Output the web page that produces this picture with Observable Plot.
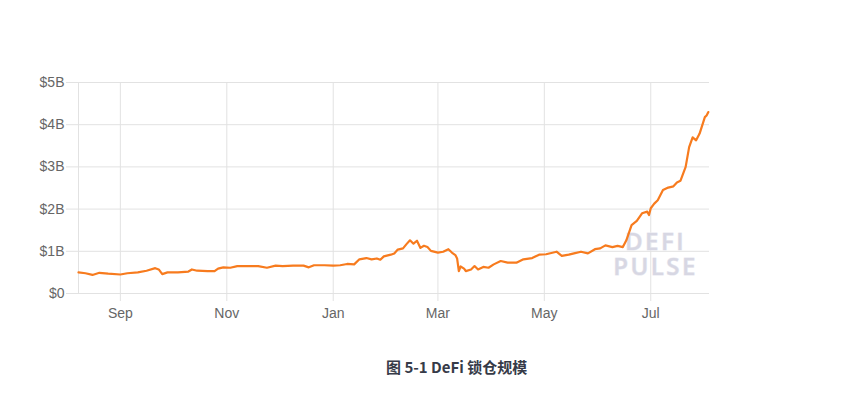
<!DOCTYPE html>
<html>
<head>
<meta charset="utf-8">
<script src="https://cdn.jsdelivr.net/npm/d3@7"></script>
<script src="https://cdn.jsdelivr.net/npm/@observablehq/plot@0.6"></script>
<style>
  body { margin: 0; background: #fff; font-family: "Liberation Sans", Arial, sans-serif; }
  #chart svg { display: block; }
  #chart g[aria-label="text"] text { letter-spacing: 2.5px; }
  #caption {
    margin-top: 27px; height: 20px; line-height: 20px;
    padding-left: 386px;
    font-family: "Noto Sans CJK SC", "Noto Sans", sans-serif;
    font-weight: bold; font-size: 15px; color: #363b48;
  }
</style>
</head>
<body>
<div id="chart"></div>
<div id="caption">图 5-1 DeFi 锁仓规模</div>
<script>
const dates = [
  "2019-08-08","2019-08-12","2019-08-16","2019-08-20","2019-08-25","2019-09-01","2019-09-05","2019-09-11",
  "2019-09-16","2019-09-21","2019-09-23","2019-09-25","2019-09-28","2019-10-04","2019-10-10","2019-10-12",
  "2019-10-15","2019-10-21","2019-10-25","2019-10-27","2019-10-30","2019-11-03","2019-11-07","2019-11-13",
  "2019-11-19","2019-11-24","2019-11-29","2019-12-03","2019-12-09","2019-12-15","2019-12-18","2019-12-21",
  "2019-12-27","2020-01-01","2020-01-05","2020-01-09","2020-01-13","2020-01-16","2020-01-20","2020-01-23",
  "2020-01-26","2020-01-28","2020-01-30","2020-02-03","2020-02-05","2020-02-07","2020-02-10","2020-02-12",
  "2020-02-14","2020-02-16","2020-02-18","2020-02-20","2020-02-22","2020-02-24","2020-02-26","2020-03-01",
  "2020-03-04","2020-03-07","2020-03-09","2020-03-11","2020-03-12","2020-03-13","2020-03-14","2020-03-16",
  "2020-03-17","2020-03-20","2020-03-22","2020-03-24","2020-03-27","2020-03-30","2020-04-02","2020-04-06",
  "2020-04-10","2020-04-15","2020-04-19","2020-04-24","2020-04-28","2020-05-02","2020-05-08","2020-05-11",
  "2020-05-15","2020-05-18","2020-05-22","2020-05-26","2020-05-30","2020-06-02","2020-06-05","2020-06-09",
  "2020-06-12","2020-06-15","2020-06-17","2020-06-20","2020-06-23","2020-06-26","2020-06-29","2020-06-30",
  "2020-07-01","2020-07-03","2020-07-05","2020-07-08","2020-07-11","2020-07-14","2020-07-16","2020-07-18",
  "2020-07-21","2020-07-23","2020-07-25","2020-07-27","2020-07-29","2020-08-01","2020-08-02","2020-08-03"
];
const tvlBillions = [
  0.50,0.48,0.44,0.49,0.47,0.45,0.48,0.50,
  0.54,0.60,0.57,0.46,0.50,0.50,0.52,0.57,
  0.54,0.53,0.53,0.59,0.62,0.61,0.65,0.65,
  0.65,0.61,0.66,0.65,0.66,0.66,0.62,0.67,
  0.67,0.66,0.67,0.70,0.69,0.81,0.84,0.81,
  0.83,0.80,0.88,0.92,0.95,1.04,1.07,1.17,
  1.26,1.18,1.25,1.08,1.13,1.10,1.01,0.97,
  0.99,1.05,0.97,0.91,0.83,0.53,0.64,0.59,
  0.53,0.57,0.65,0.57,0.63,0.61,0.69,0.77,
  0.73,0.73,0.81,0.84,0.92,0.93,0.99,0.89,
  0.92,0.95,0.99,0.95,1.05,1.07,1.14,1.10,
  1.13,1.10,1.26,1.62,1.72,1.90,1.94,1.86,
  2.02,2.13,2.21,2.45,2.51,2.54,2.63,2.67,
  3.00,3.47,3.70,3.63,3.79,4.18,4.22,4.30
];
const xDomain = ["2019-08-08T00:00Z", "2020-08-03T16:00Z"];
const xTickDates = ["2019-09-01","2019-11-01","2020-01-01","2020-03-01","2020-05-01","2020-07-01"];
const xTickLabels = ["Sep","Nov","Jan","Mar","May","Jul"];
const yTicks = [0,1,2,3,4,5];
const yTickLabels = ["$0","$1B","$2B","$3B","$4B","$5B"];
const watermarkText = "DEFI\nPULSE";

const data = dates.map((d, i) => ({date: new Date(d + "T00:00Z"), value: tvlBillions[i]}));
const xTicks = xTickDates.map(d => new Date(d + "T00:00Z"));
const gridColor = "#e2e2e2";
const labelColor = "#666";

const chart = Plot.plot({
  width: 850,
  height: 330,
  marginLeft: 78,
  marginRight: 141,
  marginTop: 82,
  marginBottom: 37,
  style: {fontFamily: "'Liberation Sans', Arial, sans-serif", fontSize: "14px", background: "#fff"},
  x: {type: "utc", domain: xDomain.map(d => new Date(d))},
  y: {domain: [0, 5]},
  marks: [
    Plot.gridY(yTicks, {stroke: gridColor, strokeOpacity: 1}),
    Plot.gridX(xTicks, {stroke: gridColor, strokeOpacity: 1}),
    Plot.frame({anchor: "left", stroke: gridColor}),
    Plot.axisY(yTicks, {
      tickSize: 12, tickPadding: 2, stroke: gridColor, fill: labelColor, fontSize: 14,
      tickFormat: d => yTickLabels[yTicks.indexOf(d)], label: null
    }),
    Plot.axisX(xTicks, {
      tickSize: 8, tickPadding: 7, stroke: gridColor, fill: labelColor, fontSize: 14,
      tickFormat: d => xTickLabels[xTicks.findIndex(t => +t === +d)], label: null
    }),
    Plot.text([watermarkText], {
      text: d => d, frameAnchor: "bottom-right", textAnchor: "middle", lineHeight: 1.04,
      dx: -54, dy: -18.5,
      fill: "#d7d7e3", fontSize: 24, fontWeight: 600, fontFamily: "'Open Sans', Lato, sans-serif",
      stroke: "#e9e9f0", strokeWidth: 1, paintOrder: "stroke"
    }),
    Plot.lineY(data, {x: "date", y: "value", stroke: "#f77b1e", strokeWidth: 2.2, strokeLinejoin: "round"})
  ]
});
document.getElementById("chart").append(chart);
</script>
</body>
</html>
